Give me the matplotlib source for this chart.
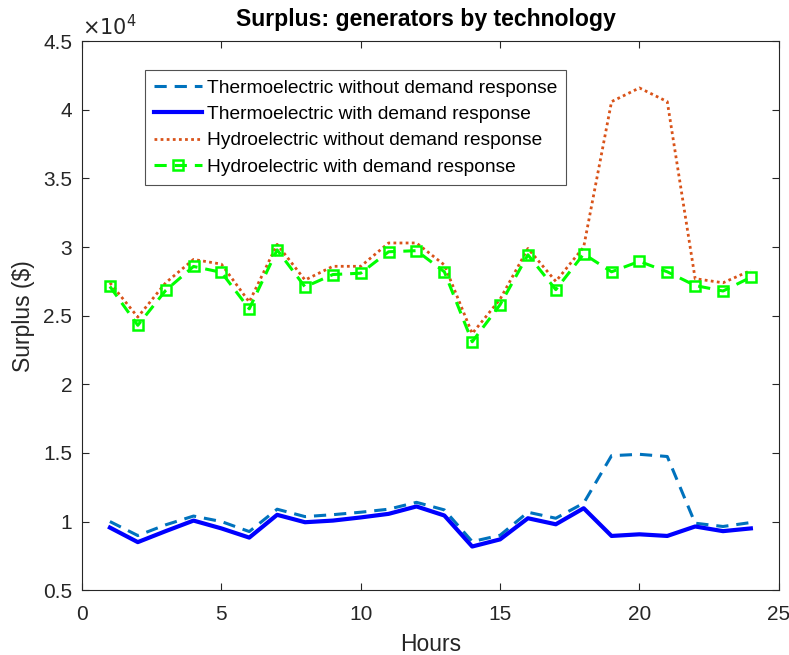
import matplotlib.pyplot as plt
from matplotlib.ticker import FuncFormatter

plt.rcParams['font.family'] = ['Liberation Sans', 'DejaVu Sans']

hours = list(range(1, 25))

# surplus in $
thermo_no_dr = [10000, 8980, 9760, 10400, 10000, 9270, 10900, 10360, 10500, 10680,
                10900, 11400, 10850, 8540, 9000, 10680, 10240, 11340, 14800, 14900,
                14740, 9880, 9640, 9930]
thermo_dr = [9560, 8500, 9300, 10070, 9500, 8830, 10490, 9950, 10070, 10300,
             10560, 11100, 10440, 8180, 8700, 10240, 9800, 10970, 8950, 9070,
             8950, 9640, 9300, 9500]
hydro_no_dr = [27400, 24900, 27400, 29100, 28760, 26000, 30200, 27600, 28600, 28600,
               30300, 30300, 28700, 23700, 26200, 29900, 27500, 30000, 40600, 41600,
               40600, 27700, 27400, 28300]
hydro_dr = [27130, 24300, 26840, 28590, 28160, 25500, 29800, 27100, 28000, 28100,
            29660, 29740, 28200, 23100, 25800, 29440, 26900, 29500, 28200, 28960,
            28200, 27200, 26800, 27800]

fig = plt.figure(figsize=(7.89, 6.55), dpi=100)
ax = fig.add_axes([0.104, 0.099, 0.883, 0.838])

ax.plot(hours, thermo_no_dr, color='#0072BD', linestyle=(0, (4, 2.6)), linewidth=2.2,
        label='Thermoelectric without demand response')
ax.plot(hours, thermo_dr, color='#0000FF', linestyle='-', linewidth=3.0,
        label='Thermoelectric with demand response')
ax.plot(hours, hydro_no_dr, color='#D95319', linestyle=(0, (1, 1.2)), linewidth=2.0,
        label='Hydroelectric without demand response')
ax.plot(hours, hydro_dr, color='#00FF00', linestyle=(0, (4, 2.6)), linewidth=2.2,
        marker='s', markersize=7.5, markerfacecolor='none', markeredgewidth=1.8,
        label='Hydroelectric with demand response')

ax.set_xlim(0, 25)
ax.set_ylim(5000, 45000)
ax.set_xticks([0, 5, 10, 15, 20, 25])
ax.set_yticks([5000 * i for i in range(1, 10)])
ax.yaxis.set_major_formatter(FuncFormatter(lambda v, p: '%g' % (v / 1e4)))

ax.tick_params(direction='in', top=True, right=True, labelsize=15, colors='#262626',
               length=5, width=0.8)
ax.tick_params(axis='x', pad=11)
ax.tick_params(axis='y', pad=7)
for s in ax.spines.values():
    s.set_color('#262626')
    s.set_linewidth(0.8)

ax.set_xlabel('Hours', fontsize=16.5, color='#262626', labelpad=6)
ax.set_ylabel('Surplus ($)', fontsize=16.5, color='#262626', labelpad=6)
ax.set_title('Surplus: generators by technology', fontsize=16.6, fontweight='bold',
             pad=11, x=0.4935)
ax.text(0.0, 1.003, r'$\times10^4$', transform=ax.transAxes, fontsize=15,
        color='#262626', va='bottom', ha='left')

leg = ax.legend(loc='upper left', bbox_to_anchor=(0.0904, 0.947), borderaxespad=0,
                fontsize=13.8, frameon=True, fancybox=False, edgecolor='#262626',
                handlelength=2.47, borderpad=0.48, labelspacing=0.46, handletextpad=0.26)
leg.get_frame().set_linewidth(0.8)

fig.savefig('out.png', dpi=100)
